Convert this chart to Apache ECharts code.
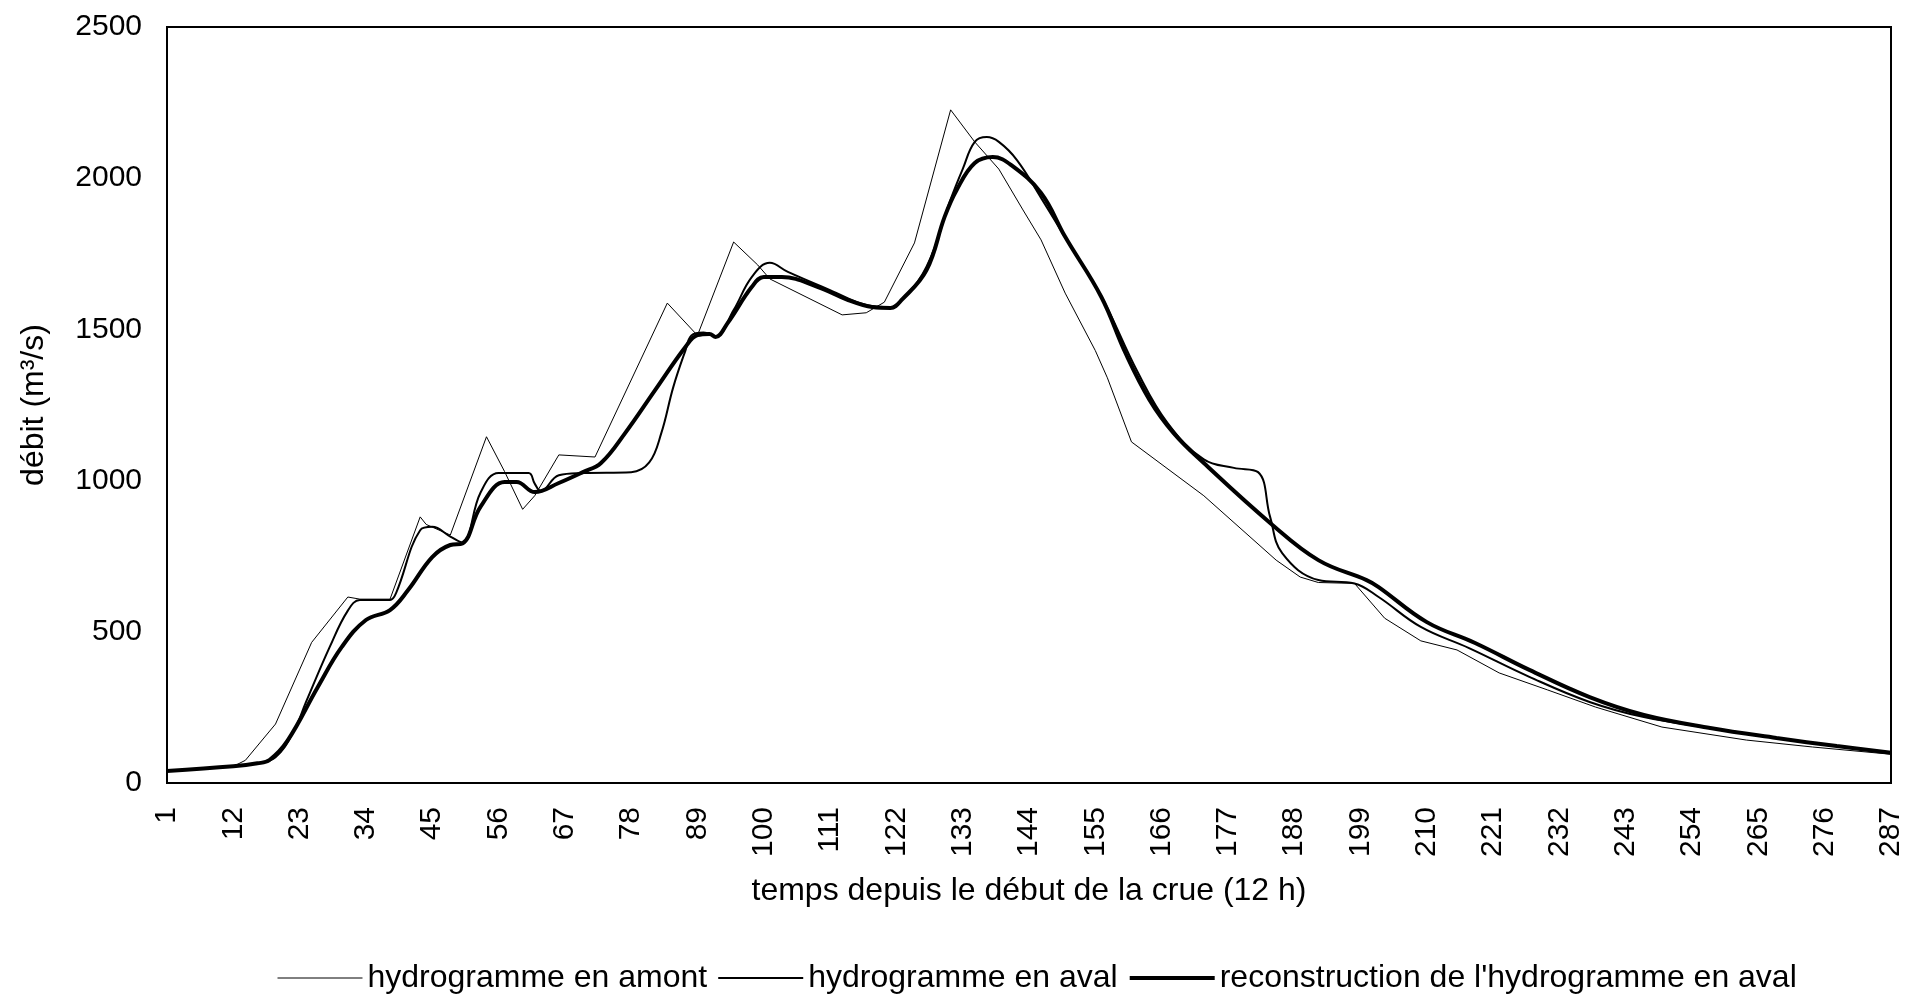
<!DOCTYPE html>
<html>
<head>
<meta charset="utf-8">
<title>hydrogramme</title>
<script src="https://cdn.jsdelivr.net/npm/echarts/dist/echarts.min.js"></script>
<style>
  html, body { margin: 0; padding: 0; background: #fff; }
  #chart { width: 1911px; height: 994px; }
</style>
</head>
<body>
<div id="chart"></div>
<script>
// pas de temps (12 h) et débits
const xTicks = [1, 12, 23, 34, 45, 56, 67, 78, 89, 100, 111, 122, 133, 144, 155, 166, 177, 188, 199, 210, 221, 232, 243, 254, 265, 276, 287];

const amontT = [1, 12, 14, 19, 25, 31, 33, 38, 43, 44, 48, 54, 57, 60, 62, 66, 72, 84, 89, 95, 99, 101, 113, 117, 120, 125, 131, 135, 139, 143, 146, 150, 155, 157, 161, 173, 185, 189, 192, 198, 203, 209, 215, 222, 230, 238, 249, 263, 274, 287];
const amontQ = [40, 55, 75, 195, 465, 615, 608, 608, 880, 855, 820, 1145, 1030, 905, 950, 1085, 1078, 1587, 1480, 1789, 1713, 1667, 1548, 1555, 1590, 1786, 2226, 2120, 2030, 1895, 1796, 1620, 1430, 1340, 1128, 950, 737, 681, 663, 660, 545, 470, 440, 364, 308, 251, 185, 142, 119, 95];

const avalT = [1, 12, 16, 19, 22, 24, 28, 31, 33, 38, 39, 43, 45, 48, 50, 53, 56, 61, 62, 63, 66, 70, 78, 81, 83, 85, 87, 88, 90, 92, 95, 98, 101, 104, 111, 117, 121, 123, 127, 131, 133, 135, 137, 139, 142, 146, 151, 156, 162, 167, 173, 178, 182, 184, 186, 192, 198, 202, 209, 217, 227, 237, 246, 257, 268, 278, 287];
const avalQ = [40, 55, 65, 85, 170, 265, 450, 570, 605, 605, 628, 836, 847, 815, 795, 960, 1025, 1025, 990, 965, 1018, 1025, 1028, 1060, 1157, 1310, 1430, 1480, 1490, 1477, 1564, 1673, 1720, 1690, 1630, 1581, 1574, 1600, 1707, 1930, 2030, 2120, 2136, 2120, 2060, 1935, 1772, 1610, 1360, 1190, 1070, 1042, 1028, 880, 760, 671, 660, 615, 516, 446, 351, 268, 218, 182, 149, 122, 100];

const reconstT = [1, 12, 16, 18, 21, 26, 30, 34, 38, 41, 45, 48, 50, 53, 57, 59, 62, 66, 70, 73, 77, 82, 87, 89, 91, 92, 94, 98, 100, 103, 109, 114, 118, 121, 123, 127, 130, 132, 135, 138, 141, 146, 150, 156, 160, 164, 168, 173, 184, 192, 200, 202, 210, 218, 227, 237, 246, 257, 268, 278, 287];
const reconstQ = [40, 55, 65, 76, 140, 317, 450, 539, 572, 638, 747, 787, 792, 913, 995, 995, 962, 992, 1028, 1058, 1157, 1300, 1442, 1481, 1485, 1475, 1521, 1640, 1673, 1673, 1640, 1597, 1574, 1571, 1600, 1696, 1872, 1961, 2050, 2070, 2044, 1951, 1806, 1607, 1422, 1267, 1157, 1058, 860, 737, 671, 648, 532, 463, 374, 284, 225, 182, 149, 122, 100];

const pairs = (ts, qs) => ts.map((t, i) => [t, qs[i]]);
const font = 'Liberation Sans, Arial, sans-serif';

const myChart = echarts.init(document.getElementById('chart'));
const option = {
  animation: false,
  backgroundColor: '#fff',
  textStyle: { fontFamily: font, color: '#000' },
  grid: {
    left: 167, right: 20, top: 27, bottom: 211,
    show: true, borderColor: '#000', borderWidth: 2
  },
  legend: {
    left: 272,
    top: 957,
    itemWidth: 85,
    itemHeight: 14,
    itemGap: 10,
    itemStyle: { opacity: 0 },
    textStyle: { fontFamily: font, fontSize: 32, color: '#000' },
    data: [
      { name: 'hydrogramme en amont', lineStyle: { width: 1 } },
      { name: 'hydrogramme en aval', lineStyle: { width: 2 } },
      { name: "reconstruction de l'hydrogramme en aval", lineStyle: { width: 4 } }
    ]
  },
  xAxis: {
    type: 'value',
    min: 1,
    max: 287,
    name: 'temps depuis le début de la crue (12 h)',
    nameLocation: 'middle',
    nameGap: 92,
    nameTextStyle: { fontFamily: font, fontSize: 32, color: '#000' },
    axisLine: { show: true, lineStyle: { color: '#000', width: 2 } },
    axisTick: { show: false },
    splitLine: { show: false },
    axisLabel: {
      customValues: xTicks,
      rotate: 90,
      margin: 24,
      fontFamily: font,
      fontSize: 30,
      color: '#000',
      formatter: v => String(v)
    }
  },
  yAxis: {
    type: 'value',
    min: 0,
    max: 2500,
    interval: 500,
    name: 'débit (m³/s)',
    nameLocation: 'middle',
    nameGap: 117,
    nameTextStyle: { fontFamily: font, fontSize: 32, color: '#000' },
    axisLine: { show: true, lineStyle: { color: '#000', width: 2 } },
    axisTick: { show: false },
    splitLine: { show: false },
    axisLabel: { margin: 25, fontFamily: font, fontSize: 30, color: '#000', formatter: v => String(v) }
  },
  series: [
    {
      name: 'hydrogramme en amont',
      type: 'line',
      symbol: 'none',
      lineStyle: { color: '#000', width: 1 },
      itemStyle: { color: '#000' },
      data: pairs(amontT, amontQ)
    },
    {
      name: 'hydrogramme en aval',
      type: 'line',
      symbol: 'none',
      smooth: 0.4,
      lineStyle: { color: '#000', width: 2 },
      itemStyle: { color: '#000' },
      data: pairs(avalT, avalQ)
    },
    {
      name: "reconstruction de l'hydrogramme en aval",
      type: 'line',
      symbol: 'none',
      smooth: 0.4,
      lineStyle: { color: '#000', width: 4 },
      itemStyle: { color: '#000' },
      data: pairs(reconstT, reconstQ)
    }
  ]
};
myChart.setOption(option);
</script>
</body>
</html>
